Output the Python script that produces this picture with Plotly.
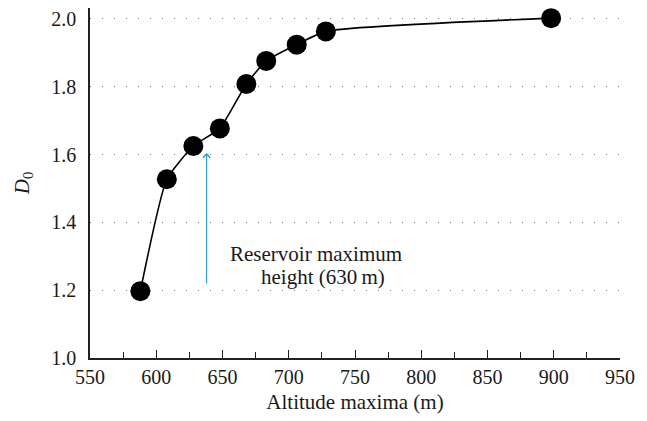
import plotly.graph_objects as go

altitude = [588, 608, 628, 648, 668, 683, 706, 728, 898]
d0 = [1.197, 1.527, 1.625, 1.677, 1.808, 1.876, 1.924, 1.963, 2.002]

x_ticks = [550, 600, 650, 700, 750, 800, 850, 900, 950]
y_ticks = [1.0, 1.2, 1.4, 1.6, 1.8, 2.0]
y_tick_labels = ["1.0", "1.2", "1.4", "1.6", "1.8", "2.0"]

arrow_x = 638
arrow_tail_y = 1.215
arrow_head_y = 1.605
note_lines = ["Reservoir maximum", "height (630\u2009m)"]
note_x = [720.5, 725.5]
note_y = [1.306, 1.238]

FONT = "Liberation Serif"
INK = "#1a1a1a"

fig = go.Figure()
fig.add_trace(go.Scatter(
    x=altitude, y=d0, mode="lines+markers",
    line=dict(color="black", width=1.6, shape="spline", smoothing=0.5),
    marker=dict(color="black", size=20, line=dict(width=0)),
    showlegend=False,
))

fig.add_annotation(
    x=arrow_x, y=arrow_head_y, ax=arrow_x, ay=arrow_tail_y,
    xref="x", yref="y", axref="x", ayref="y",
    text="", showarrow=True, arrowhead=4, arrowsize=1.2, arrowwidth=1.2,
    arrowcolor="#2ea3dc",
)
for line_text, lx, ly in zip(note_lines, note_x, note_y):
    fig.add_annotation(
        x=lx, y=ly, xref="x", yref="y", text=line_text, showarrow=False,
        font=dict(family=FONT, size=21, color=INK),
    )

# page body has an 8px margin; figure sized so the plot lands where the reference has it
fig.update_layout(
    width=639, height=413,
    margin=dict(l=82, r=27, t=0, b=63),
    plot_bgcolor="white", paper_bgcolor="white",
    font=dict(family=FONT, size=20, color=INK),
)
fig.update_xaxes(
    range=[550, 950], tickvals=x_ticks, ticks="inside", ticklen=8, tickwidth=1.2,
    tickcolor="#222", showline=True, linecolor="#222", linewidth=1.5,
    showgrid=False, zeroline=False,
    minor=dict(ticks="inside", ticklen=6, dtick=25, tickcolor="#222", tickwidth=1.2, showgrid=False),
    title=dict(text="Altitude maxima (m)", standoff=8, font=dict(size=21)),
)
fig.update_yaxes(
    range=[1.0, 2.032], tickvals=y_ticks, ticktext=y_tick_labels, ticks="",
    ticklabelstandoff=8, ticklabeloverflow="allow",
    showline=True, linecolor="#222", linewidth=1.5,
    showgrid=True, gridcolor="#777", gridwidth=1, griddash="1px,11px",
    zeroline=False,
    title=dict(text="<i>D</i><sub>0</sub>", standoff=16, font=dict(size=21)),
)

fig.write_html("out.html")
